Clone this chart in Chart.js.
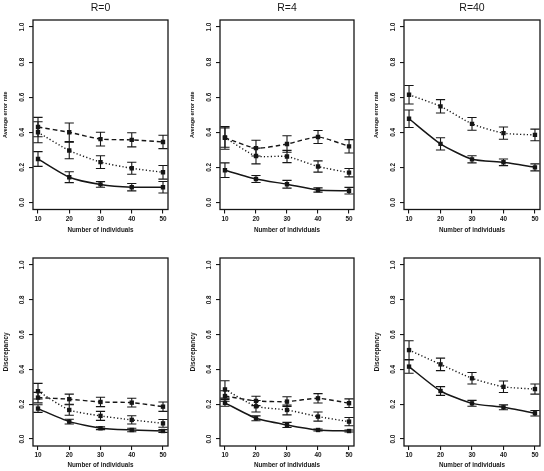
<!DOCTYPE html>
<html>
<head>
<meta charset="utf-8">
<script src="https://cdn.jsdelivr.net/npm/chart.js@4.4.1/dist/chart.umd.min.js"></script>
<style>
  html, body { margin: 0; padding: 0; background: #ffffff; }
  body { position: relative; width: 544px; height: 471px; overflow: hidden; }
  canvas { position: absolute; }
</style>
</head>
<body>
<canvas id="c0"></canvas>
<canvas id="c1"></canvas>
<canvas id="c2"></canvas>
<canvas id="c3"></canvas>
<canvas id="c4"></canvas>
<canvas id="c5"></canvas>
<script>
// ---------------- DATA ----------------
const xValues = [10, 20, 30, 40, 50];
const xTickValues = [10, 20, 30, 40, 50];
const yTickValues = [0, 0.2, 0.4, 0.6, 0.8, 1.0];
const columnTitles = ['R=0', 'R=4', 'R=40'];
const rowAxisTitles = ['Average error rate', 'Discrepancy'];
const xAxisTitle = 'Number of individuals';

// Average error rate, R=0
const errR0Solid    = [0.248, 0.144, 0.103, 0.087, 0.087];
const errR0SolidBar = [0.042, 0.031, 0.016, 0.021, 0.033];
const errR0Dotted    = [0.400, 0.296, 0.230, 0.195, 0.172];
const errR0DottedBar = [0.060, 0.047, 0.036, 0.034, 0.039];
const errR0Dashed    = [0.430, 0.400, 0.361, 0.357, 0.345];
const errR0DashedBar = [0.055, 0.053, 0.039, 0.040, 0.038];

// Average error rate, R=4
const errR4Solid    = [0.184, 0.134, 0.104, 0.071, 0.067];
const errR4SolidBar = [0.042, 0.020, 0.022, 0.012, 0.019];
const errR4Dotted    = [0.370, 0.265, 0.262, 0.205, 0.170];
const errR4DottedBar = [0.055, 0.045, 0.035, 0.032, 0.024];
const errR4Dashed    = [0.368, 0.310, 0.333, 0.373, 0.320];
const errR4DashedBar = [0.065, 0.045, 0.047, 0.037, 0.038];

// Average error rate, R=40
const errR40Solid    = [0.477, 0.334, 0.246, 0.229, 0.200];
const errR40SolidBar = [0.050, 0.035, 0.020, 0.019, 0.020];
const errR40Dotted    = [0.614, 0.548, 0.448, 0.395, 0.385];
const errR40DottedBar = [0.053, 0.038, 0.036, 0.035, 0.033];

// Discrepancy, R=0
const discR0Solid    = [0.175, 0.100, 0.062, 0.052, 0.046];
const discR0SolidBar = [0.022, 0.014, 0.008, 0.010, 0.008];
const discR0Dotted    = [0.275, 0.167, 0.133, 0.110, 0.090];
const discR0DottedBar = [0.045, 0.030, 0.026, 0.024, 0.022];
const discR0Dashed    = [0.238, 0.229, 0.213, 0.209, 0.186];
const discR0DashedBar = [0.030, 0.029, 0.027, 0.025, 0.027];

// Discrepancy, R=4
const discR4Solid    = [0.208, 0.119, 0.081, 0.052, 0.046];
const discR4SolidBar = [0.020, 0.014, 0.015, 0.006, 0.006];
const discR4Dotted    = [0.285, 0.188, 0.167, 0.129, 0.100];
const discR4DottedBar = [0.050, 0.033, 0.028, 0.026, 0.024];
const discR4Dashed    = [0.247, 0.219, 0.215, 0.234, 0.206];
const discR4DashedBar = [0.030, 0.027, 0.028, 0.027, 0.025];

// Discrepancy, R=40
const discR40Solid    = [0.416, 0.276, 0.205, 0.182, 0.148];
const discR40SolidBar = [0.038, 0.025, 0.017, 0.014, 0.016];
const discR40Dotted    = [0.511, 0.429, 0.349, 0.300, 0.287];
const discR40DottedBar = [0.054, 0.036, 0.033, 0.033, 0.029];

// ---------------- STYLE / LAYOUT ----------------
const INK = '#161616';
const FONT = '"Liberation Sans", Arial, Helvetica, sans-serif';
const lineStyles = {
  solid:  { dash: [],         width: 1.5 },
  dotted: { dash: [1.2, 2.2], width: 1.4 },
  dashed: { dash: [4.5, 3],   width: 1.4 }
};

const panelLayout = [
  { id: 'c0', left: 0,   top: 0,   width: 172, height: 236, row: 0, col: 0, boxTop: 20, boxBottom: 209.5, right: 3 },
  { id: 'c1', left: 187, top: 0,   width: 171, height: 236, row: 0, col: 1, boxTop: 20, boxBottom: 209.5, right: 3 },
  { id: 'c2', left: 371, top: 0,   width: 173, height: 236, row: 0, col: 2, boxTop: 20, boxBottom: 209.5, right: 3 },
  { id: 'c3', left: 0,   top: 236, width: 172, height: 235, row: 1, col: 0, boxTop: 22, boxBottom: 210,   right: 3 },
  { id: 'c4', left: 187, top: 236, width: 171, height: 235, row: 1, col: 1, boxTop: 22, boxBottom: 210,   right: 3 },
  { id: 'c5', left: 371, top: 236, width: 173, height: 235, row: 1, col: 2, boxTop: 22, boxBottom: 210,   right: 3 }
];

const panelSeries = [
  [['solid', errR0Solid, errR0SolidBar], ['dotted', errR0Dotted, errR0DottedBar], ['dashed', errR0Dashed, errR0DashedBar]],
  [['solid', errR4Solid, errR4SolidBar], ['dotted', errR4Dotted, errR4DottedBar], ['dashed', errR4Dashed, errR4DashedBar]],
  [['solid', errR40Solid, errR40SolidBar], ['dotted', errR40Dotted, errR40DottedBar]],
  [['solid', discR0Solid, discR0SolidBar], ['dotted', discR0Dotted, discR0DottedBar], ['dashed', discR0Dashed, discR0DashedBar]],
  [['solid', discR4Solid, discR4SolidBar], ['dotted', discR4Dotted, discR4DottedBar], ['dashed', discR4Dashed, discR4DashedBar]],
  [['solid', discR40Solid, discR40SolidBar], ['dotted', discR40Dotted, discR40DottedBar]]
];

// ---------------- PLUGINS ----------------
const boxPlugin = {
  id: 'rbox',
  afterDraw(chart) {
    const a = chart.chartArea, ctx = chart.ctx;
    ctx.save();
    ctx.strokeStyle = INK;
    ctx.lineWidth = 1.3;
    ctx.setLineDash([]);
    ctx.strokeRect(a.left, a.top, a.right - a.left, a.bottom - a.top);
    ctx.restore();
  }
};

const errorBarPlugin = {
  id: 'errbars',
  afterDatasetsDraw(chart) {
    const ctx = chart.ctx;
    const xs = chart.scales.x, ys = chart.scales.y;
    ctx.save();
    ctx.strokeStyle = INK;
    ctx.lineWidth = 1.1;
    ctx.setLineDash([]);
    chart.data.datasets.forEach(ds => {
      const bars = ds.errorBars;
      if (!bars) return;
      ds.data.forEach((pt, j) => {
        const px = xs.getPixelForValue(pt.x);
        const pLo = ys.getPixelForValue(pt.y - bars[j]);
        const pHi = ys.getPixelForValue(pt.y + bars[j]);
        const half = 4.6;
        ctx.beginPath();
        ctx.moveTo(px, pLo); ctx.lineTo(px, pHi);
        ctx.moveTo(px - half, pLo); ctx.lineTo(px + half, pLo);
        ctx.moveTo(px - half, pHi); ctx.lineTo(px + half, pHi);
        ctx.stroke();
      });
    });
    ctx.restore();
  }
};

// ---------------- BUILD ----------------
panelLayout.forEach((p, idx) => {
  const cv = document.getElementById(p.id);
  cv.width = p.width; cv.height = p.height;
  cv.style.left = p.left + 'px'; cv.style.top = p.top + 'px';
  cv.style.width = p.width + 'px'; cv.style.height = p.height + 'px';

  const datasets = panelSeries[idx].map(([style, vals, bars]) => ({
    label: style,
    data: xValues.map((x, j) => ({ x: x, y: vals[j] })),
    errorBars: bars,
    borderColor: INK,
    backgroundColor: INK,
    borderWidth: lineStyles[style].width,
    borderDash: lineStyles[style].dash,
    pointStyle: 'rect',
    pointRadius: 3.1,
    pointBorderWidth: 0,
    pointBackgroundColor: INK,
    tension: 0.2,
    fill: false
  }));

  const xScaleHeight = p.height - p.boxBottom;
  const isTop = p.row === 0;
  const yTitleSize = isTop ? 5.4 : 6.6;

  new Chart(cv, {
    type: 'line',
    data: { datasets },
    options: {
      responsive: false,
      animation: false,
      devicePixelRatio: 1,
      layout: { padding: { left: 0, right: p.right, top: isTop ? 0 : p.boxTop, bottom: 0 } },
      plugins: {
        legend: { display: false },
        tooltip: { enabled: false },
        title: {
          display: isTop,
          text: columnTitles[p.col],
          fullSize: false,
          color: INK,
          font: { family: FONT, size: 10.5, weight: 'normal', lineHeight: 1 },
          padding: { top: 3, bottom: 6.5 }
        }
      },
      scales: {
        x: {
          type: 'linear',
          min: 8.4, max: 51.6,
          afterBuildTicks: s => { s.ticks = xTickValues.map(v => ({ value: v })); },
          afterFit: s => { s.height = xScaleHeight; },
          border: { display: false },
          grid: { display: true, drawOnChartArea: false, drawTicks: true, tickLength: 4, color: INK, lineWidth: 1.1 },
          ticks: { color: INK, font: { family: FONT, size: 6.4, weight: 'bold' }, padding: 1.4, maxRotation: 0, minRotation: 0,
                   callback: v => String(v) },
          title: { display: true, text: xAxisTitle, color: INK,
                   font: { family: FONT, size: 6.3, weight: 'bold', lineHeight: 1 }, padding: { top: 0, bottom: 3 } }
        },
        y: {
          type: 'linear',
          min: -0.04, max: 1.04,
          afterBuildTicks: s => { s.ticks = yTickValues.map(v => ({ value: v })); },
          afterFit: s => { s.width = 33; },
          border: { display: false },
          grid: { display: true, drawOnChartArea: false, drawTicks: true, tickLength: 4, color: INK, lineWidth: 1.1 },
          ticks: { color: INK, font: { family: FONT, size: 6.4, weight: 'bold' }, padding: 2.2, minRotation: 90, maxRotation: 90,
                   crossAlign: 'center', callback: v => Number(v).toFixed(1) },
          title: { display: true, text: rowAxisTitles[p.row], color: INK,
                   font: { family: FONT, size: yTitleSize, weight: 'bold', lineHeight: 1 },
                   padding: { top: 6 - yTitleSize / 2, bottom: 0 } }
        }
      }
    },
    plugins: [boxPlugin, errorBarPlugin]
  });
});
</script>
</body>
</html>
